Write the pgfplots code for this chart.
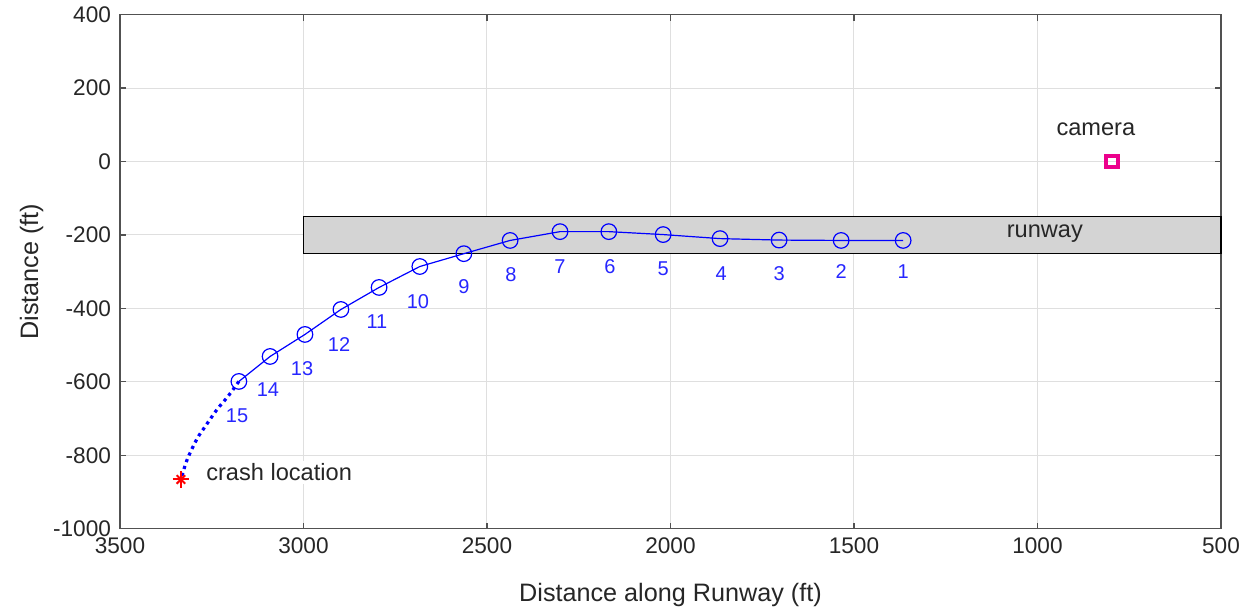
\documentclass[border=0pt]{standalone}
\usepackage{pgfplots}
\pgfplotsset{compat=1.18}
\usepackage{fontspec}
\setmainfont{Liberation Sans}
\definecolor{axc}{RGB}{38,38,38}
\definecolor{gridc}{RGB}{223,223,223}
\definecolor{rwy}{RGB}{212,212,212}
\begin{document}
\begin{tikzpicture}
\begin{axis}[name=ax,
  scale only axis, width=550.5pt, height=257pt,
  xmin=500, xmax=3500, x dir=reverse,
  ymin=-1000, ymax=400,
  xtick={500,1000,...,3500}, ytick={-1000,-800,...,400},
  grid=major, major grid style={gridc, line width=0.5pt},
  axis line style={axc!80, line width=0.7pt},
  tick style={axc!80, line width=0.6pt}, tick align=inside, major tick length=3pt,
  xticklabel style={font=\fontsize{11.3}{13}\selectfont, text=axc, yshift=-1pt},
  yticklabel style={font=\fontsize{11.3}{13}\selectfont, text=axc, xshift=-1pt},
  /pgf/number format/assume math mode=true,
  /pgf/number format/1000 sep={},
  xlabel={Distance along Runway (ft)}, ylabel={Distance (ft)},
  xlabel style={font=\fontsize{12.6}{15}\selectfont, text=axc, yshift=-8pt},
  ylabel style={font=\fontsize{12.6}{15}\selectfont, text=axc, yshift=-2pt},
  clip=false,
]
\addplot[draw=black, fill=rwy, line width=0.6pt] coordinates {(3000,-150) (500,-150) (500,-250) (3000,-250) (3000,-150)} -- cycle;
\addplot[blue, line width=0.6pt, mark=o, mark size=3.9pt, mark options={line width=0.6pt}] coordinates {
(1366,-215) (1535,-215) (1704,-214) (1865,-210) (2020,-199) (2168,-191) (2301,-191) (2437,-215) (2563,-251) (2683,-286) (2794,-343) (2898,-403) (2996,-471) (3091,-531) (3176,-599)};
\addplot[blue, line width=1.6pt, dash pattern=on 1.6pt off 2pt, smooth] coordinates {
(3176,-599) (3206,-640) (3236,-676) (3268,-722) (3290,-755) (3317,-812) (3334,-866)};
\addplot[red, only marks, mark=+, mark size=4.2pt, mark options={line width=1pt}] coordinates {(3334,-866)};
\addplot[red, only marks, mark=x, mark size=3pt, mark options={line width=1pt}] coordinates {(3334,-866)};
\addplot[magenta, only marks, mark=square, mark size=2.8pt, mark options={line width=2pt}] coordinates {(797,0)};
\begin{scope}[every node/.style={text=blue!85!white, font=\fontsize{10}{12}\selectfont}]
\node at (axis cs:1366,-300) {1};
\node at (axis cs:1535,-300) {2};
\node at (axis cs:1704,-305) {3};
\node at (axis cs:1862,-305) {4};
\node at (axis cs:2020,-292) {5};
\node at (axis cs:2165,-286) {6};
\node at (axis cs:2301,-286) {7};
\node at (axis cs:2435,-308) {8};
\node at (axis cs:2563,-341) {9};
\node at (axis cs:2688,-381) {10};
\node at (axis cs:2800,-436) {11};
\node at (axis cs:2903,-499) {12};
\node at (axis cs:3004,-564) {13};
\node at (axis cs:3097,-621) {14};
\node at (axis cs:3181,-692) {15};
\end{scope}
\node[text=axc, font=\fontsize{11.8}{14}\selectfont] at (axis cs:841,87) {camera};
\node[text=axc, font=\fontsize{11.8}{14}\selectfont] at (axis cs:980,-196) {runway};
\node[text=axc, fill=white, anchor=west, inner sep=1.5pt, font=\fontsize{11.8}{14}\selectfont] at (axis cs:3274,-847) {crash location};
\end{axis}
\path ([xshift=-60pt,yshift=-43pt]ax.south west) rectangle ([xshift=15.5pt,yshift=6.5pt]ax.north east);
\end{tikzpicture}
\end{document}
